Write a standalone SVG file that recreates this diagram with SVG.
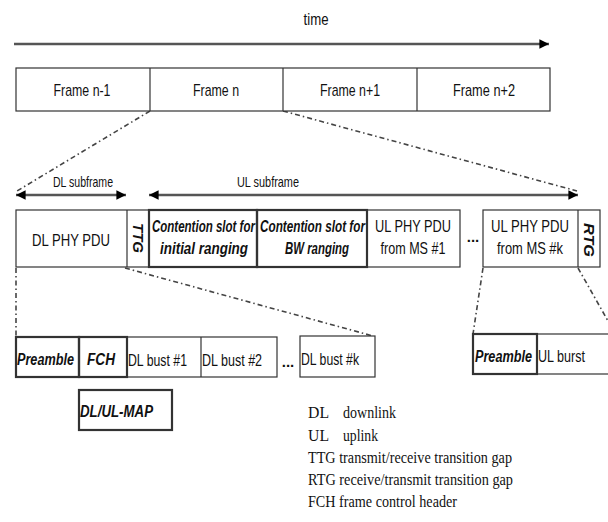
<svg xmlns="http://www.w3.org/2000/svg" width="608" height="522" viewBox="0 0 608 522">
<style>
  .s { font-family: "Liberation Sans", Arial, sans-serif; fill: #111; }
  .bi { font-family: "Liberation Sans", Arial, sans-serif; font-weight: bold; font-style: italic; fill: #111; }
  .r { font-family: "Liberation Serif", "Times New Roman", serif; fill: #111; font-size: 16px; }
  .thin { fill: #fff; stroke: #333; stroke-width: 1.2; }
  .thick { fill: none; stroke: #333; stroke-width: 2.2; }
  .ln { stroke: #333; stroke-width: 1.2; fill: none; }
  .dd { stroke: #444; stroke-width: 1.6; fill: none; stroke-dasharray: 5 3 1.5 3; }
  .arr { stroke: #555; stroke-width: 2.4; fill: none; }
</style>
<defs>
  <marker id="ah" viewBox="0 0 10 10" refX="10" refY="5" markerWidth="4" markerHeight="4.5" orient="auto-start-reverse" markerUnits="strokeWidth">
    <path d="M0,0 L10,5 L0,10 Z" fill="#000"/>
  </marker>
</defs>
<rect width="608" height="522" fill="#fff"/>

<g id="connectors">
  <line class="arr" x1="14" y1="44" x2="549" y2="44" marker-end="url(#ah)"/>
  <line class="arr" x1="16" y1="195" x2="126" y2="195" marker-start="url(#ah)" marker-end="url(#ah)"/>
  <line class="arr" x1="149" y1="195" x2="578" y2="195" marker-start="url(#ah)" marker-end="url(#ah)"/>
  <line class="dd" x1="150" y1="111" x2="17" y2="191"/>
  <line class="dd" x1="283" y1="111" x2="577" y2="191"/>
  <line class="dd" x1="16" y1="268" x2="16" y2="337"/>
  <line class="dd" x1="125" y1="268" x2="373" y2="336"/>
  <line class="dd" x1="483" y1="268" x2="473" y2="334"/>
  <line class="dd" x1="578" y1="268" x2="608" y2="321"/>
</g>

<g id="time-label">
  <text class="s" transform="translate(316,25) scale(0.78,1)" font-size="16" text-anchor="middle" textLength="32" lengthAdjust="spacingAndGlyphs">time</text>
</g>

<g id="frames">
  <rect class="thin" x="16" y="68" width="534" height="43"/>
  <line class="ln" x1="150" y1="68" x2="150" y2="111"/>
  <line class="ln" x1="283" y1="68" x2="283" y2="111"/>
  <line class="ln" x1="417" y1="68" x2="417" y2="111"/>
  <text class="s" transform="translate(82,96) scale(0.78,1)" font-size="16" text-anchor="middle" textLength="73" lengthAdjust="spacingAndGlyphs">Frame n-1</text>
  <text class="s" transform="translate(216,96) scale(0.78,1)" font-size="16" text-anchor="middle" textLength="59" lengthAdjust="spacingAndGlyphs">Frame n</text>
  <text class="s" transform="translate(350,96) scale(0.78,1)" font-size="16" text-anchor="middle" textLength="77" lengthAdjust="spacingAndGlyphs">Frame n+1</text>
  <text class="s" transform="translate(484,96) scale(0.78,1)" font-size="16" text-anchor="middle" textLength="79.5" lengthAdjust="spacingAndGlyphs">Frame n+2</text>
</g>

<g id="subframe-labels">
  <text class="s" transform="translate(83,187) scale(0.78,1)" font-size="14" text-anchor="middle" textLength="77" lengthAdjust="spacingAndGlyphs">DL subframe</text>
  <text class="s" transform="translate(268,187) scale(0.78,1)" font-size="14" text-anchor="middle" textLength="79.5" lengthAdjust="spacingAndGlyphs">UL subframe</text>
</g>

<g id="dl-phy-pdu">
  <rect class="thin" x="16" y="210" width="444" height="57"/>
  <text class="s" transform="translate(71,246) scale(0.78,1)" font-size="17" text-anchor="middle" textLength="100" lengthAdjust="spacingAndGlyphs">DL PHY PDU</text>
</g>

<g id="ttg">
  <line class="ln" x1="127" y1="210" x2="127" y2="267"/>
  <text class="bi" transform="translate(138,238) rotate(90)" x="0" y="0" font-size="14" text-anchor="middle" dominant-baseline="central" textLength="30" lengthAdjust="spacingAndGlyphs">TTG</text>
</g>

<g id="contention-initial">
  <text class="bi" transform="translate(152,232) scale(0.7,1)" font-size="16" textLength="147" lengthAdjust="spacingAndGlyphs">Contention slot for</text>
  <text class="bi" transform="translate(204,254) scale(0.7,1)" font-size="16" text-anchor="middle" textLength="125.7" lengthAdjust="spacingAndGlyphs">initial ranging</text>
  <rect class="thick" x="149" y="210" width="108" height="57"/>
</g>

<g id="contention-bw">
  <text class="bi" transform="translate(260,232) scale(0.7,1)" font-size="16" textLength="150" lengthAdjust="spacingAndGlyphs">Contention slot for</text>
  <text class="bi" transform="translate(317,254) scale(0.7,1)" font-size="16" text-anchor="middle" textLength="91.4" lengthAdjust="spacingAndGlyphs">BW ranging</text>
  <rect class="thick" x="257" y="210" width="110" height="57"/>
</g>

<g id="ul-pdu-1">
  <text class="s" transform="translate(413,232) scale(0.78,1)" font-size="16" text-anchor="middle" textLength="97.4" lengthAdjust="spacingAndGlyphs">UL PHY PDU</text>
  <text class="s" transform="translate(413,254) scale(0.78,1)" font-size="16" text-anchor="middle" textLength="83.3" lengthAdjust="spacingAndGlyphs">from MS #1</text>
</g>

<g id="ul-dots">
  <text class="s" x="473" y="242" font-size="15" font-weight="bold" text-anchor="middle">...</text>
</g>

<g id="ul-pdu-k">
  <rect class="thin" x="483" y="210" width="117" height="57"/>
  <text class="s" transform="translate(530,232) scale(0.78,1)" font-size="16" text-anchor="middle" textLength="100" lengthAdjust="spacingAndGlyphs">UL PHY PDU</text>
  <text class="s" transform="translate(530,254) scale(0.78,1)" font-size="16" text-anchor="middle" textLength="84.6" lengthAdjust="spacingAndGlyphs">from MS #k</text>
</g>

<g id="rtg">
  <line class="ln" x1="578" y1="210" x2="578" y2="267"/>
  <text class="bi" transform="translate(589,240) rotate(90)" x="0" y="0" font-size="14" text-anchor="middle" dominant-baseline="central" textLength="34" lengthAdjust="spacingAndGlyphs">RTG</text>
</g>

<g id="dl-bursts">
  <rect class="thin" x="16" y="337" width="261" height="40"/>
  <line class="ln" x1="201" y1="337" x2="201" y2="377"/>
  <text class="s" transform="translate(128,366) scale(0.78,1)" font-size="17" textLength="75.6" lengthAdjust="spacingAndGlyphs">DL bust #1</text>
  <text class="s" transform="translate(202,366) scale(0.78,1)" font-size="17" textLength="77" lengthAdjust="spacingAndGlyphs">DL bust #2</text>
</g>

<g id="dl-preamble">
  <rect class="thick" x="16" y="337" width="63" height="40"/>
  <text class="bi" transform="translate(17,365) scale(0.7,1)" font-size="17" textLength="81.4" lengthAdjust="spacingAndGlyphs">Preamble</text>
</g>

<g id="fch">
  <rect class="thick" x="79" y="337" width="48" height="40"/>
  <text class="bi" transform="translate(101,365) scale(0.7,1)" font-size="17" text-anchor="middle" textLength="40" lengthAdjust="spacingAndGlyphs">FCH</text>
</g>

<g id="dl-dots">
  <text class="s" x="288" y="367" font-size="15" font-weight="bold" text-anchor="middle">...</text>
</g>

<g id="dl-burst-k">
  <rect class="thin" x="300" y="336" width="75" height="41"/>
  <text class="s" transform="translate(301,365) scale(0.78,1)" font-size="17" textLength="74.4" lengthAdjust="spacingAndGlyphs">DL bust #k</text>
</g>

<g id="dl-ul-map">
  <rect class="thick" x="79" y="390" width="93" height="40"/>
  <text class="bi" transform="translate(80,417) scale(0.7,1)" font-size="17" textLength="104.3" lengthAdjust="spacingAndGlyphs">DL/UL-MAP</text>
</g>

<g id="ul-burst">
  <rect class="thin" x="537" y="334" width="75" height="40"/>
  <text class="s" transform="translate(538,362) scale(0.78,1)" font-size="17" textLength="60.3" lengthAdjust="spacingAndGlyphs">UL burst</text>
</g>

<g id="ul-preamble">
  <rect class="thick" x="473" y="334" width="64" height="40"/>
  <text class="bi" transform="translate(475,362) scale(0.7,1)" font-size="17" textLength="81.4" lengthAdjust="spacingAndGlyphs">Preamble</text>
</g>

<g id="legend">
  <text class="r" x="308" y="418" textLength="21" lengthAdjust="spacingAndGlyphs">DL</text>
  <text class="r" x="343" y="418" textLength="53" lengthAdjust="spacingAndGlyphs">downlink</text>
  <text class="r" x="308" y="441" textLength="21" lengthAdjust="spacingAndGlyphs">UL</text>
  <text class="r" x="343" y="441" textLength="35" lengthAdjust="spacingAndGlyphs">uplink</text>
  <text class="r" x="308" y="463" textLength="204" lengthAdjust="spacingAndGlyphs">TTG transmit/receive transition gap</text>
  <text class="r" x="308" y="485" textLength="205" lengthAdjust="spacingAndGlyphs">RTG receive/transmit transition gap</text>
  <text class="r" x="308" y="507" textLength="149" lengthAdjust="spacingAndGlyphs">FCH frame control header</text>
</g>
</svg>
